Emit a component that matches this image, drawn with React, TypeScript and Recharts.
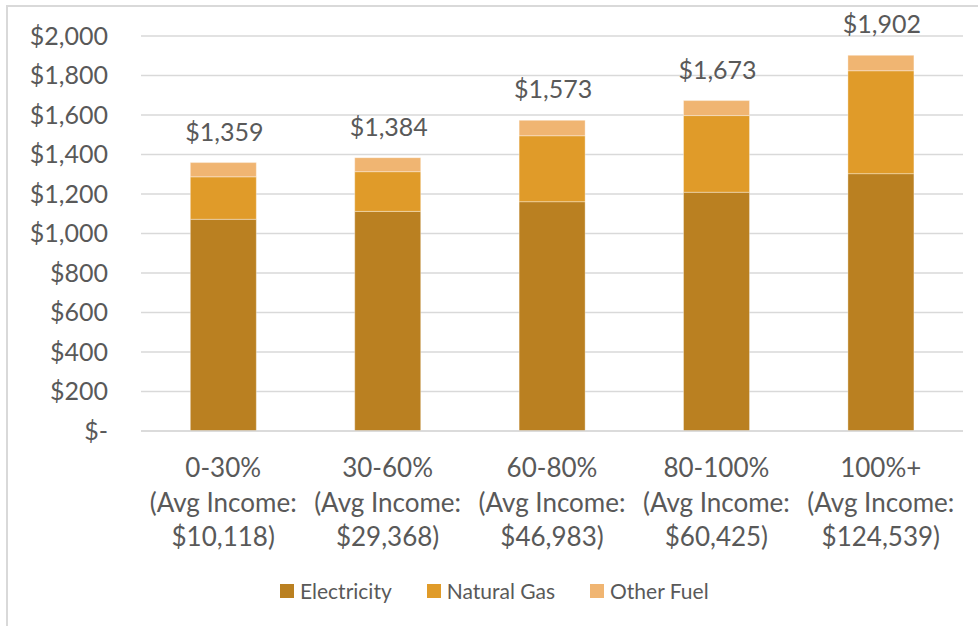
import React from "react";
import { BarChart, Bar, XAxis, YAxis, CartesianGrid, Legend, LabelList } from "recharts";

const rangeLabels = ["0-30%", "30-60%", "60-80%", "80-100%", "100%+"];
const incomeLabels = ["$10,118)", "$29,368)", "$46,983)", "$60,425)", "$124,539)"];
const electricity = [1072, 1112, 1161, 1209, 1303];
const naturalGas = [215, 201, 334, 388, 521];
const otherFuel = [72, 71, 78, 76, 78];
const totals = [1359, 1384, 1573, 1673, 1902];
const yTicks = [0, 200, 400, 600, 800, 1000, 1200, 1400, 1600, 1800, 2000];

const seriesNames = ["Electricity", "Natural Gas", "Other Fuel"];
const colors = ["#BA8021", "#E09B29", "#F0B572"];

const data = rangeLabels.map((r, i) => ({
  cat: r,
  electricity: electricity[i],
  naturalGas: naturalGas[i],
  otherFuel: otherFuel[i],
  total: totals[i],
}));

const FONT = "Lato, 'Open Sans', sans-serif";
const TEXT = "#595959";

const fmtMoney = (v: number) => (v === 0 ? "$-" : "$" + v.toLocaleString("en-US"));

const XTick = (props: any) => {
  const { x, payload } = props;
  const i = rangeLabels.indexOf(payload.value);
  const lines = [rangeLabels[i], "(Avg Income:", incomeLabels[i]];
  return (
    <text x={x} y={431 + 37 + 9} textAnchor="middle" fill={TEXT} fontSize={26} fontFamily={FONT}>
      {lines.map((l, k) => (
        <tspan key={k} x={x} dy={k === 0 ? 0 : 34.5}>
          {l}
        </tspan>
      ))}
    </text>
  );
};

const TotalLabel = (props: any) => {
  const { x, y, width, index } = props;
  return (
    <text
      x={x + width / 2 + 1}
      y={y - 32}
      textAnchor="middle"
      dominantBaseline="central"
      fill={TEXT}
      fontSize={25}
      fontFamily={FONT}
    >
      {fmtMoney(totals[index])}
    </text>
  );
};

const LegendContent = () => (
  <div style={{ display: "flex", alignItems: "center", fontFamily: FONT, fontSize: 21, color: TEXT, paddingLeft: 280 }}>
    {seriesNames.map((n, i) => (
      <div key={n} style={{ display: "flex", alignItems: "center", marginRight: 35 }}>
        <div style={{ width: 14, height: 14, background: colors[i], marginRight: 6 }} />
        <span style={{ lineHeight: "24px" }}>{n}</span>
      </div>
    ))}
  </div>
);

export default function App() {
  return (
    <div style={{ position: "absolute", left: 0, top: 0, width: 978, height: 626, background: "#fff", overflow: "hidden" }}>
      <div
        style={{
          position: "absolute",
          left: 6,
          top: 5,
          width: 1000,
          height: 700,
          border: "2px solid #d9d9d9",
          boxSizing: "border-box",
        }}
      />
      <div style={{ position: "absolute", left: 0, top: 0 }}>
        <BarChart
          width={978}
          height={626}
          data={data}
          margin={{ top: 36, right: 15, left: 0, bottom: 75 }}
          barCategoryGap="30%"
        >
          <CartesianGrid vertical={false} stroke="#d9d9d9" strokeWidth={1.5} />
          <XAxis
            dataKey="cat"
            height={120}
            axisLine={{ stroke: "#d9d9d9", strokeWidth: 1.5 }}
            tickLine={false}
            interval={0}
            tick={<XTick />}
          />
          <YAxis
            width={141}
            domain={[0, 2000]}
            ticks={yTicks}
            axisLine={false}
            tickLine={false}
            tickSize={0}
            tickMargin={33}
            tickFormatter={fmtMoney}
            tick={{ fill: TEXT, fontSize: 25, fontFamily: FONT }}
          />
          <Legend
            verticalAlign="middle"
            align="center"
            layout="horizontal"
            content={<LegendContent />}
            wrapperStyle={{ top: 579, left: 0, width: 978 }}
          />
          <Bar dataKey="electricity" name="Electricity" stackId="a" fill={colors[0]} stroke="#ffffff" strokeOpacity={0.35} isAnimationActive={false} />
          <Bar dataKey="naturalGas" name="Natural Gas" stackId="a" fill={colors[1]} stroke="#ffffff" strokeOpacity={0.35} isAnimationActive={false} />
          <Bar dataKey="otherFuel" name="Other Fuel" stackId="a" fill={colors[2]} stroke="#ffffff" strokeOpacity={0.35} isAnimationActive={false}>
            <LabelList dataKey="total" content={<TotalLabel />} />
          </Bar>
        </BarChart>
      </div>
    </div>
  );
}
